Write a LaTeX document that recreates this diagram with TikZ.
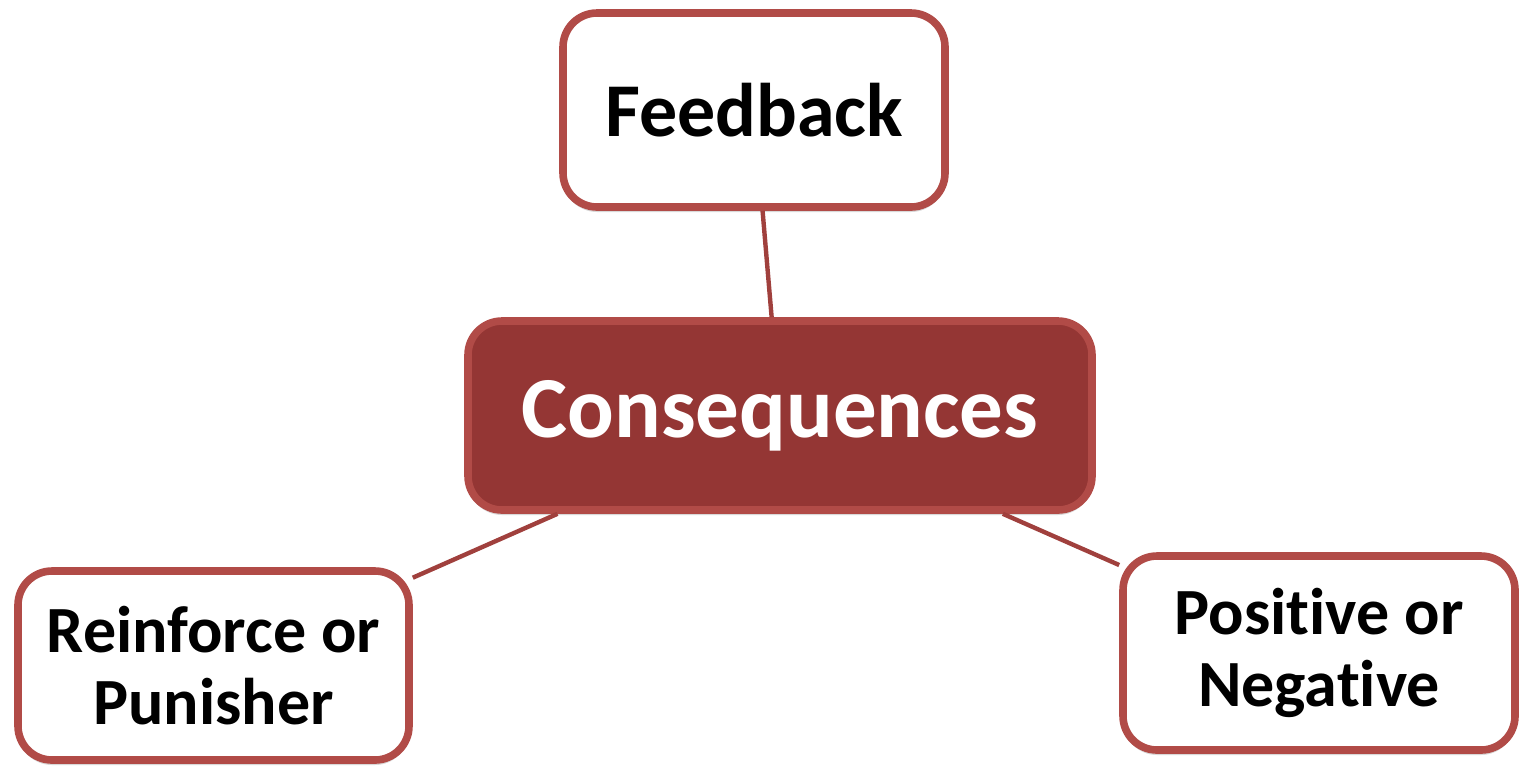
\documentclass[tikz,border=0pt]{standalone}
\usepackage{fontspec}
\setmainfont{Carlito}[Ligatures=NoCommon]
\usetikzlibrary{shadows}
\definecolor{boxline}{HTML}{B14B47}
\definecolor{boxfill}{HTML}{943634}
\definecolor{linkline}{HTML}{A0403D}
\begin{document}
\begin{tikzpicture}[x=0.5pt,y=-0.5pt,
    box/.style={rectangle,rounded corners=17pt,draw=boxline,line width=3.8pt,fill=white,
        align=center,font=\bfseries\fontsize{33}{36}\selectfont,
        drop shadow={opacity=0.3,shadow xshift=0pt,shadow yshift=-2.5pt}},
    link/.style={draw=linkline,line width=2.2pt}]
    \useasboundingbox (0,0) rectangle (1519,768);
    \node[box,minimum width=191pt,minimum height=97pt,font=\bfseries\fontsize{38}{40}\selectfont] (F) at (754,110) {Feedback};
    \node[box,fill=boxfill,text=white,minimum width=312pt,minimum height=94.5pt,font=\bfseries\fontsize{43.5}{46}\selectfont] (C) at (780,415.5) {Consequences};
    \node[box,minimum width=195.5pt,minimum height=94.5pt] (R) at (213.5,665.5) {Reinforce or\\Punisher};
    \node[box,minimum width=196pt,minimum height=97pt] (P) at (1319,653) {Positive or\\Negative};
    \draw[link] (F) -- (C);
    \draw[link] (C) -- (R);
    \draw[link] (C) -- (P);
\end{tikzpicture}
\end{document}
